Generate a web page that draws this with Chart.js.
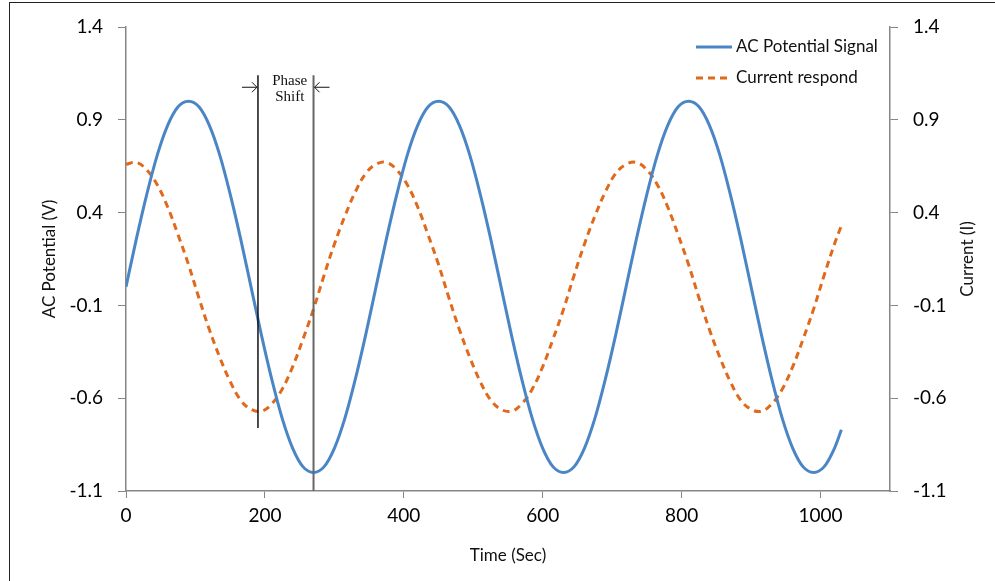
<!DOCTYPE html>
<html>
<head>
<meta charset="utf-8">
<script src="https://cdn.jsdelivr.net/npm/chart.js@4/dist/chart.umd.min.js"></script>
<style>
  html, body { margin: 0; padding: 0; background: #fff; overflow: hidden; }
  #wrap { position: relative; width: 995px; height: 581px; }
  #frame { position: absolute; left: 9px; top: 2px; width: 1200px; height: 800px; border: 1px solid #222; }
  #chart { position: absolute; left: 0; top: 0; }
</style>
</head>
<body>
<div id="wrap">
  <div id="frame"></div>
  <canvas id="chart" width="995" height="581"></canvas>
</div>
<script>
// time axis (Sec)
var timeSec = [0, 15, 30, 45, 60, 75, 90, 105, 120, 135, 150, 165,
               180, 195, 210, 225, 240, 255, 270, 285, 300, 315, 330, 345,
               360, 375, 390, 405, 420, 435, 450, 465, 480, 495, 510, 525,
               540, 555, 570, 585, 600, 615, 630, 645, 660, 675, 690, 705,
               720, 735, 750, 765, 780, 795, 810, 825, 840, 855, 870, 885,
               900, 915, 930, 945, 960, 975, 990, 1005, 1020, 1030];

// AC Potential Signal (V)
var acPotential = [0, 0.26, 0.5, 0.71, 0.87, 0.97, 1, 0.97, 0.87, 0.71, 0.5, 0.26,
                   0, -0.26, -0.5, -0.71, -0.87, -0.97, -1, -0.97, -0.87, -0.71, -0.5, -0.26,
                   0, 0.26, 0.5, 0.71, 0.87, 0.97, 1, 0.97, 0.87, 0.71, 0.5, 0.26,
                   0, -0.26, -0.5, -0.71, -0.87, -0.97, -1, -0.97, -0.87, -0.71, -0.5, -0.26,
                   0, 0.26, 0.5, 0.71, 0.87, 0.97, 1, 0.97, 0.87, 0.71, 0.5, 0.26,
                   0, -0.26, -0.5, -0.71, -0.87, -0.97, -1, -0.97, -0.87, -0.77];

// Current respond (I)
var currentRespond = [0.66, 0.67, 0.63, 0.55, 0.43, 0.28, 0.12, -0.06, -0.23, -0.38, -0.51, -0.61,
                      -0.66, -0.67, -0.63, -0.55, -0.43, -0.28, -0.12, 0.06, 0.23, 0.38, 0.51, 0.61,
                      0.66, 0.67, 0.63, 0.55, 0.43, 0.28, 0.12, -0.06, -0.23, -0.38, -0.51, -0.61,
                      -0.66, -0.67, -0.63, -0.55, -0.43, -0.28, -0.12, 0.06, 0.23, 0.38, 0.51, 0.61,
                      0.66, 0.67, 0.63, 0.55, 0.43, 0.28, 0.12, -0.06, -0.23, -0.38, -0.51, -0.61,
                      -0.66, -0.67, -0.63, -0.55, -0.43, -0.28, -0.12, 0.06, 0.23, 0.33];

var xTickValues = [0, 200, 400, 600, 800, 1000];
var yTickValues = [-1.1, -0.6, -0.1, 0.4, 0.9, 1.4];

// phase shift marker
var phaseStart = 190;
var phaseEnd = 270;
var phaseTop = 1.14;
var phaseStartBottom = -0.76;
var phaseEndBottom = -1.1;

var blue = '#4a86c6';
var orange = '#e0691b';
var axisColor = '#868686';
var font = 'Lato, "Open Sans", sans-serif';

function pairs(xs, ys) {
    return xs.map(function (x, i) { return {x: x, y: ys[i]}; });
}

function setTicks(values) {
    return function (axis) {
        axis.ticks = values.map(function (v) { return {value: v}; });
    };
}

var phasePlugin = {
    id: 'phaseShift',
    afterDatasetsDraw: function (chart) {
        var ctx = chart.ctx;
        var xs = chart.scales.x, ys = chart.scales.y;
        var x1 = xs.getPixelForValue(phaseStart);
        var x2 = xs.getPixelForValue(phaseEnd);
        var top = ys.getPixelForValue(phaseTop);
        var ay = top + 12;
        ctx.save();
        ctx.strokeStyle = '#111';
        ctx.lineWidth = 1.5;
        ctx.beginPath();
        ctx.moveTo(x1, top);
        ctx.lineTo(x1, ys.getPixelForValue(phaseStartBottom));
        ctx.stroke();
        ctx.strokeStyle = '#666';
        ctx.lineWidth = 2;
        ctx.beginPath();
        ctx.moveTo(x2, top);
        ctx.lineTo(x2, ys.getPixelForValue(phaseEndBottom));
        ctx.stroke();
        // arrows
        ctx.strokeStyle = '#111';
        ctx.lineWidth = 1;
        ctx.beginPath();
        ctx.moveTo(x1 - 16, ay); ctx.lineTo(x1 - 1, ay);
        ctx.moveTo(x1 - 6, ay - 5); ctx.lineTo(x1 - 1, ay); ctx.lineTo(x1 - 6, ay + 5);
        ctx.moveTo(x2 + 16, ay); ctx.lineTo(x2 + 1, ay);
        ctx.moveTo(x2 + 6, ay - 5); ctx.lineTo(x2 + 1, ay); ctx.lineTo(x2 + 6, ay + 5);
        ctx.stroke();
        ctx.fillStyle = '#111';
        ctx.font = '15px "Liberation Serif", "DejaVu Serif", serif';
        ctx.textAlign = 'center';
        ctx.textBaseline = 'alphabetic';
        var mid = (x1 + x2) / 2 + 4;
        ctx.fillText('Phase', mid, top + 10);
        ctx.fillText('Shift', mid, top + 26);
        ctx.restore();
    }
};

var legendPlugin = {
    id: 'insideLegend',
    afterDraw: function (chart) {
        var ctx = chart.ctx;
        var items = chart.data.datasets;
        ctx.save();
        ctx.font = '17px ' + font;
        ctx.textBaseline = 'middle';
        items.forEach(function (ds, i) {
            var y = 47 + i * 31;
            ctx.strokeStyle = ds.borderColor;
            ctx.lineWidth = 3;
            ctx.setLineDash(ds.borderDash || []);
            ctx.beginPath();
            ctx.moveTo(696, y);
            ctx.lineTo(732, y);
            ctx.stroke();
            ctx.setLineDash([]);
            ctx.fillStyle = '#111';
            ctx.fillText(ds.label, 736, y);
        });
        // right axis title, reads bottom to top like the left one
        var r = chart.scales.y1;
        ctx.translate(968, (r.top + r.bottom) / 2);
        ctx.rotate(-Math.PI / 2);
        ctx.font = '17px ' + font;
        ctx.textAlign = 'center';
        ctx.fillText('Current (I)', 0, 0);
        ctx.restore();
    }
};

var ctx = document.getElementById('chart').getContext('2d');
var chart = new Chart(ctx, {
    type: 'line',
    data: {
        datasets: [{
            label: 'AC Potential Signal',
            data: pairs(timeSec, acPotential),
            borderColor: blue,
            borderWidth: 3,
            pointRadius: 0,
            cubicInterpolationMode: 'monotone',
            yAxisID: 'y'
        }, {
            label: 'Current respond',
            data: pairs(timeSec, currentRespond),
            borderColor: orange,
            borderWidth: 3,
            borderDash: [7, 5],
            pointRadius: 0,
            tension: 0.4,
            yAxisID: 'y1'
        }]
    },
    options: {
        responsive: false,
        animation: false,
        layout: { padding: { top: 27, left: 0, right: 0, bottom: 0 } },
        plugins: {
            legend: { display: false },
            tooltip: { enabled: false }
        },
        scales: {
            x: {
                type: 'linear',
                min: 0,
                max: 1100,
                afterBuildTicks: setTicks(xTickValues),
                afterFit: function (s) { s.height = 90; },
                border: { color: axisColor, width: 1.5 },
                grid: { drawOnChartArea: false, tickLength: 7, tickColor: axisColor },
                ticks: { color: '#000', font: { family: font, size: 19 }, padding: 6, maxRotation: 0,
                         callback: function (v) { return String(v); } },
                title: { display: true, text: 'Time (Sec)', color: '#111',
                         font: { family: font, size: 17 }, padding: { top: 0, bottom: 15 } }
            },
            y: {
                position: 'left',
                min: -1.1,
                max: 1.4,
                afterBuildTicks: setTicks(yTickValues),
                afterFit: function (s) { s.width = 126; },
                border: { color: axisColor, width: 1.5 },
                grid: { drawOnChartArea: false, tickLength: 8, tickColor: axisColor },
                ticks: { color: '#000', font: { family: font, size: 19 }, padding: 15,
                         callback: function (v) { return v.toFixed(1); } },
                title: { display: true, text: 'AC Potential (V)', color: '#111',
                         font: { family: font, size: 17 }, padding: { top: 39, bottom: 0 } }
            },
            y1: {
                position: 'right',
                min: -1.1,
                max: 1.4,
                afterBuildTicks: setTicks(yTickValues),
                afterFit: function (s) { s.width = 105; },
                border: { color: axisColor, width: 1.5 },
                grid: { drawOnChartArea: false, tickLength: 8, tickColor: axisColor },
                ticks: { color: '#000', font: { family: font, size: 19 }, padding: 15,
                         callback: function (v) { return v.toFixed(1); } }
            }
        }
    },
    plugins: [phasePlugin, legendPlugin]
});
</script>
</body>
</html>
